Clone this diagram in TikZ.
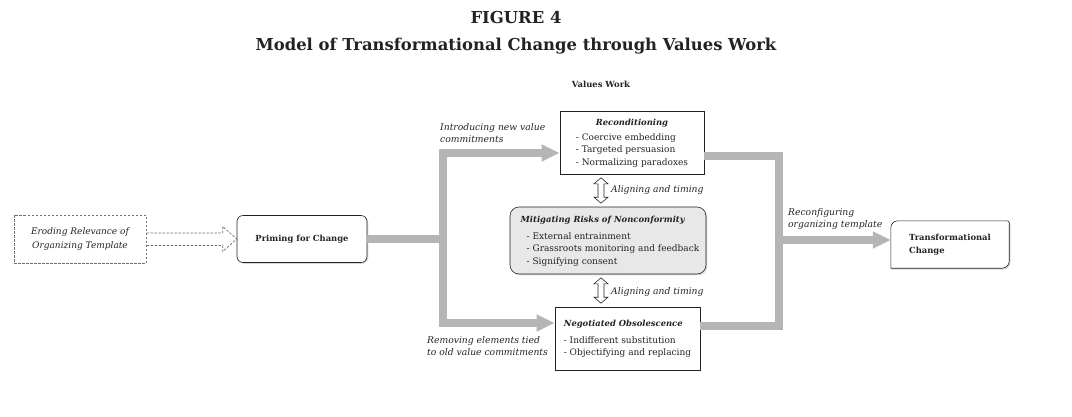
\documentclass[tikz,border=0pt]{standalone}
\usepackage{fontspec}
\setmainfont{DejaVu Serif}
\usetikzlibrary{arrows.meta,shadows,calc,backgrounds}
\definecolor{lgray}{HTML}{B5B5B5}
\definecolor{dgray}{HTML}{707070}
\definecolor{ink}{HTML}{222222}
\definecolor{mfill}{HTML}{E8E8E8}
\newcommand{\hd}[1]{{\fontsize{8.4}{12.5}\selectfont\bfseries\itshape #1}}
\begin{document}
\begin{tikzpicture}[x=1pt,y=1pt,
  every node/.style={font=\fontsize{9}{12.5}\selectfont, text=ink, inner sep=0pt},
  bx/.style={draw=ink, line width=0.6pt, fill=white},
  shd/.style={drop shadow={shadow xshift=1.3pt,shadow yshift=-1.3pt,opacity=0.3}},
  gl/.style={draw=lgray, line width=8pt, line join=miter},
  gtip/.style={-{Triangle[length=18pt,width=16pt]}},
  lbl/.style={font=\fontsize{9.2}{12}\selectfont\itshape, align=left},
  hollow/.style={draw=ink, fill=white, line width=0.6pt, line join=miter},
  dsh/.style={draw=dgray, line width=0.7pt, dash pattern=on 2.5pt off 1.5pt},
  ttl/.style={font=\fontsize{16.4}{19}\selectfont\bfseries},
]
\useasboundingbox (0,0) rectangle (1072,-416);

% titles
\node[ttl] (fig) at (516,-18) {FIGURE 4};
\node[ttl] (title) at (516,-46) {Model of Transformational Change through Values Work};
\node[font=\fontsize{8.4}{10}\selectfont\bfseries] (vw) at (601,-84) {Values Work};

% boxes
\node[dsh, fill=white, minimum width=132pt, minimum height=48pt, align=center,
      font=\fontsize{9}{14}\selectfont\itshape] (ero) at (80,-239) {Eroding Relevance of\\Organizing Template};
\node[bx, shd, rounded corners=6pt, minimum width=130pt, minimum height=47pt,
      font=\fontsize{8.4}{12}\selectfont\bfseries] (pri) at (302,-239) {Priming for Change};
\node[bx, shd, minimum width=144pt, minimum height=63pt] (rec) at (632,-142.5)
  {\begin{tabular}{@{}l@{}}\multicolumn{1}{@{}c@{}}{\hd{Reconditioning}}\\[2.5pt]
   - Coercive embedding\\ - Targeted persuasion\\ - Normalizing paradoxes\end{tabular}};
\node[bx, shd, fill=mfill, rounded corners=9pt, minimum width=196pt, minimum height=67pt] (mit) at (608,-240.5)
  {\begin{tabular}{@{\hspace{10pt}}l@{}}\hspace*{-6pt}\hd{Mitigating Risks of Nonconformity}\\[4.5pt]
   - External entrainment\\ - Grassroots monitoring and feedback\\ - Signifying consent\end{tabular}};
\node[bx, shd, minimum width=145pt, minimum height=63pt] (neg) at (627.5,-338.5)
  {\begin{tabular}{@{}l@{}}\hd{Negotiated Obsolescence}\\[4.5pt]
   - Indifferent substitution\\ - Objectifying and replacing\end{tabular}};
\node[minimum width=118pt, minimum height=47pt, align=left,
      font=\fontsize{8.4}{13}\selectfont\bfseries] (tc) at (950,-244.5) {Transformational\\Change};
\begin{scope}[on background layer]
\draw[bx, shd] (tc.south west) -- ([yshift=-7pt]tc.north west)
  arc[start angle=180,end angle=90,radius=7pt] -- ([xshift=-2pt]tc.north east)
  arc[start angle=90,end angle=0,radius=2pt] -- ([yshift=7pt]tc.south east)
  arc[start angle=0,end angle=-90,radius=7pt] -- cycle;
\end{scope}

% dashed hollow arrow
\draw[dsh, line join=miter] ($(ero.east)+(0,6)$) -- ($(pri.west)+(-14,6)$) -- ($(pri.west)+(-14,12.5)$)
  -- (pri.west) -- ($(pri.west)+(-14,-12.5)$) -- ($(pri.west)+(-14,-6.5)$) -- ($(ero.east)+(0,-6.5)$);

% gray connectors, left
\coordinate (lt) at (443,-153);
\coordinate (lb) at (443,-323);
\draw[gl] (pri.east) -- (pri.east -| lt);
\draw[gl,gtip] (pri.east -| lt) -- (lt) -- (lt -| rec.west);
\draw[gl,gtip] (pri.east -| lt) -- (lb) -- (lb -| neg.west);

% gray connectors, right
\coordinate (rt) at (779,-155.5);
\coordinate (rb) at (779,-326);
\coordinate (rm) at (779,-240);
\draw[gl] (rec.east |- rt) -- (rt) -- (rb) -- (rb -| neg.east);
\draw[gl,gtip] (rm) -- (rm -| tc.west);

% hollow double arrows
\coordinate (dx) at (601,0);
\path let \p1=($(dx |- rec.south)+(0,-3.5)$), \p2=($(dx |- mit.north)+(0,3.5)$) in
  [hollow] (\p1) -- (\x1+7pt,\y1-6pt) -- (\x1+3pt,\y1-6pt) -- (\x1+3pt,\y2+6pt) -- (\x1+7pt,\y2+6pt)
  -- (\p2) -- (\x1-7pt,\y2+6pt) -- (\x1-3pt,\y2+6pt) -- (\x1-3pt,\y1-6pt) -- (\x1-7pt,\y1-6pt) -- cycle;
\path let \p1=($(dx |- mit.south)+(0,-3.5)$), \p2=($(dx |- neg.north)+(0,3.5)$) in
  [hollow] (\p1) -- (\x1+7pt,\y1-6pt) -- (\x1+3pt,\y1-6pt) -- (\x1+3pt,\y2+6pt) -- (\x1+7pt,\y2+6pt)
  -- (\p2) -- (\x1-7pt,\y2+6pt) -- (\x1-3pt,\y2+6pt) -- (\x1-3pt,\y1-6pt) -- (\x1-7pt,\y1-6pt) -- cycle;

% labels
\node[lbl, anchor=west] (al1) at (611,-190) {Aligning and timing};
\node[lbl, anchor=west] (al2) at (611,-292) {Aligning and timing};
\node[lbl, anchor=west] (intro) at (440,-133) {Introducing new value\\commitments};
\node[lbl, anchor=west] (remov) at (427,-346) {Removing elements tied\\to old value commitments};
\node[lbl, anchor=west] (reconf) at (788,-219) {Reconfiguring\\organizing template};
\end{tikzpicture}
\end{document}
